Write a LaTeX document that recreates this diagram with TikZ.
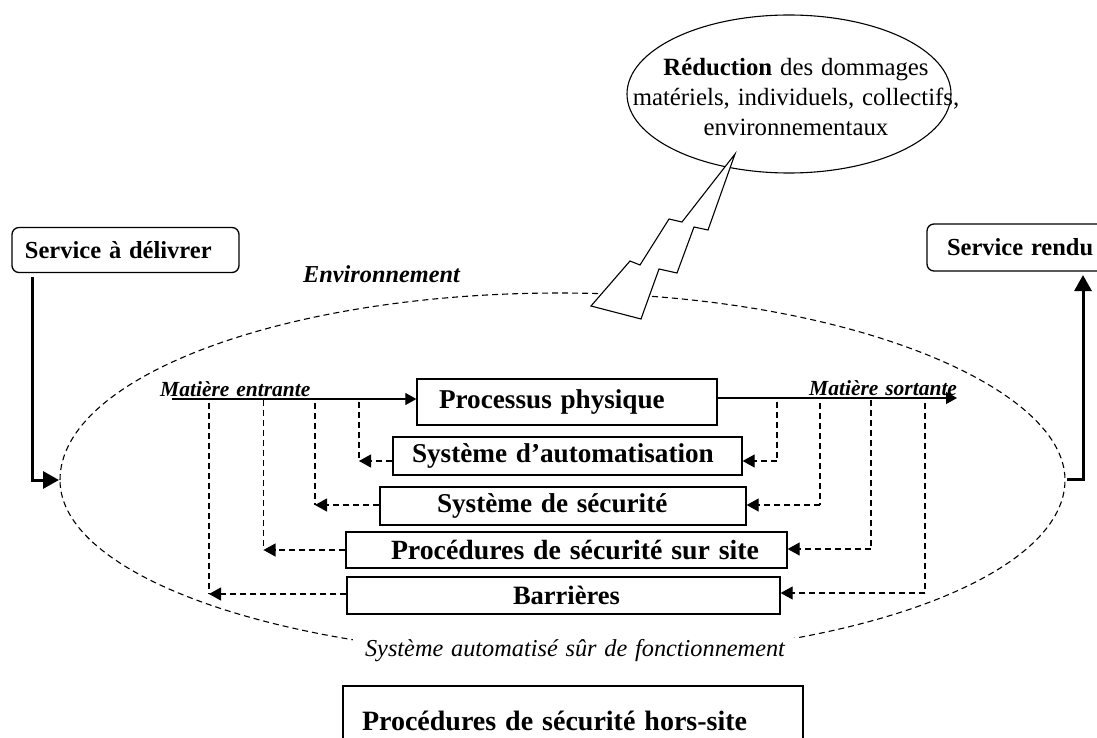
\documentclass[tikz,border=0pt]{standalone}
\usepackage{fontspec}
\setmainfont{Liberation Serif}
\usetikzlibrary{arrows.meta}
\newcommand{\fs}[1]{\fontsize{#1}{#1}\selectfont\spaceskip=0.32em\relax}
\tikzset{
  box/.style={draw,line width=1.3pt,fill=white,inner xsep=0pt,inner ysep=0pt,align=left,font=\bfseries},
  rbox/.style={box,rounded corners=7pt},
  dashline/.style={line width=1.1pt,dash pattern=on 6pt off 4pt},
  back/.style={dashline,-{Triangle[length=12pt,width=13pt]}},
  flow/.style={line width=1.2pt,-{Triangle[length=11pt,width=12pt]}},
  thickline/.style={line width=3pt,-{Triangle[length=16pt,width=17pt]}},
  ital/.style={inner sep=0pt,anchor=base west,font=\itshape\bfseries},
  env/.style={line width=1.1pt,dash pattern=on 6pt off 4pt}
}
\begin{document}
\begin{tikzpicture}[x=1pt,y=-1pt]
\useasboundingbox (0,0) rectangle (1097,738);
\fill[white] (0,0) rectangle (1097,738);
% dashed envelope
\draw[env] (60,480) .. controls (60,377) and (284,293) .. (560,293)
  .. controls (839,293) and (1065,385) .. (1065,480)
  .. controls (1065,578) and (845,657) .. (575,657)
  .. controls (291,657) and (60,578) .. cycle;
% boxes
\node[box,minimum width=300pt,minimum height=46pt,text width=300pt] (proc) at (567,402) {\hspace*{22pt}\fs{27.2}Processus physique};
\node[box,minimum width=349pt,minimum height=38pt,text width=349pt] (auto) at (567.5,456) {\hspace*{19pt}\fs{27.2}Système d’automatisation};
\node[box,minimum width=366pt,minimum height=38pt,text width=366pt] (secu) at (563,506) {\hspace*{57pt}\fs{27.2}Système de sécurité};
\node[box,minimum width=441pt,minimum height=36pt,text width=441pt] (site) at (566.5,550) {\hspace*{45pt}\fs{27.8}Procédures de sécurité sur site};
\node[box,minimum width=433pt,minimum height=37pt,text width=433pt] (barr) at (563.5,595.5) {\hspace*{166pt}\fs{26.5}Barrières};
\node[box,minimum width=460pt,minimum height=70pt,text width=460pt] (hors) at (573,721) {\hspace*{19pt}\fs{28}Procédures de sécurité hors-site};
\node[rbox,minimum width=227pt,minimum height=45pt,text width=227pt] (deliv) at (125.5,250) {\hspace*{13pt}\fs{24.5}Service à délivrer};
\node[rbox,minimum width=190pt,minimum height=47pt,text width=190pt] (rendu) at (1022,247.5) {\hspace*{20pt}\fs{24.5}Service rendu};
% texts
\node[ital] (envt) at (303,282) {\fs{24.3}Environnement};
\node[ital] (min) at (160,396) {\fs{21.5}Matière entrante};
\node[ital] (mout) at (809,395) {\fs{21.5}Matière sortante};
\node[inner xsep=12pt,inner ysep=2pt,fill=white,font=\itshape] (sys) at (575,651) {\fs{24.3}Système automatisé sûr de fonctionnement};
% main flows
\coordinate (ins) at (172,399);
\coordinate (outs) at (957,398);
\draw[flow] (ins) -- (proc.west |- ins);
\draw[flow] (proc.east |- outs) -- (outs);
% feedback, box to vertical on the left
\foreach \bx/\vx/\ay/\sx in {auto/359/461/402,secu/315/505/403,site/263.5/550/400,barr/209/594/403}{
  \coordinate (t) at (\vx,\sx);
  \coordinate (c) at (\vx,\ay);
  \draw[dashline] (t) -- (c);
  \draw[back] (\bx.west |- c) -- (c);
}
% feedback, vertical to box on the right
\foreach \bx/\vx/\ay/\sx in {auto/777/461/402,secu/820/505/403,site/871/549/400,barr/925/593/403}{
  \coordinate (t) at (\vx,\sx);
  \coordinate (c) at (\vx,\ay);
  \draw[dashline] (t) -- (c);
  \draw[back] (c) -- (\bx.east |- c);
}
% thick service arrows
\coordinate (dl) at (32,480);
\coordinate (dr) at (59,480);
\coordinate (ds) at (32,277);
\draw[thickline] (ds) -- (dl) -- (dr);
\coordinate (rl) at (1067,479);
\coordinate (rc) at (1083,479);
\coordinate (rt) at (1083,275);
\draw[thickline] (rl) -- (rc) -- (rt);
% balloon
\draw[line width=1.1pt] (789,94) ellipse [x radius=162,y radius=79];
\node[inner sep=0pt,align=center,font=\fs{24.8}] (red) at (796,97) {\textbf{Réduction} des dommages\\[5pt]matériels, individuels, collectifs,\\[5pt]environnementaux};
% lightning
\draw[line width=1.1pt,fill=white,line join=miter]
 (735,154) -- (682,222) -- (669,219) -- (640,265) -- (630,261) -- (591,306) -- (641,319) -- (659,269) -- (677,273) -- (694,227) -- (708,230) -- cycle;
\end{tikzpicture}
\end{document}
